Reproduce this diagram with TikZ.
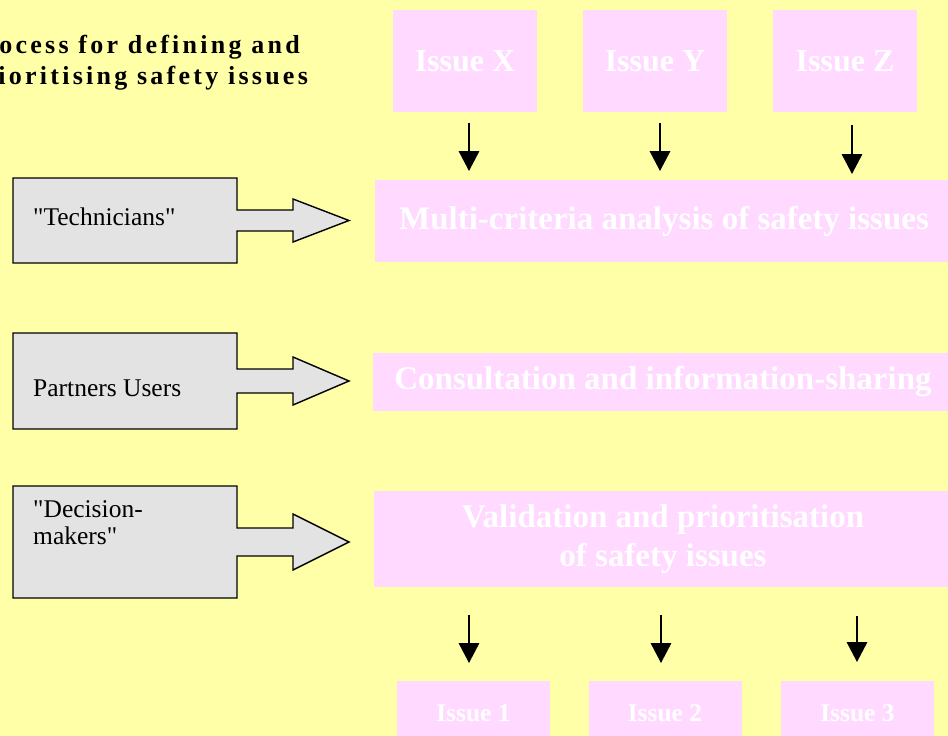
\documentclass[tikz,border=0pt]{standalone}
\usepackage{fontspec}
\setmainfont{Liberation Serif}
\newfontfamily\spacedserif[LetterSpace=12.5]{Liberation Serif}
\newfontfamily\labelserif[Ligatures=TeXOff]{Liberation Serif}
\usetikzlibrary{arrows.meta,calc}
\definecolor{bgc}{HTML}{FFFFA8}
\definecolor{pinkc}{HTML}{FFD9FF}
\definecolor{greyc}{HTML}{E3E3E3}
\newcommand\gShapeOutline[3]{%
  \fill[greyc] (#1.north west) -- (#1.north east) -- ($(#1.east)+(0,-#2)$) -- ++(56,0) -- ($(#1.east)+(56,-#3)$) -- ($(#1.east)+(112,0)$) -- ($(#1.east)+(56,#3)$) -- ($(#1.east)+(56,#2)$) -- ($(#1.east)+(0,#2)$) -- (#1.south east) -- (#1.south west) -- cycle;
  \draw[line width=1.4pt, line join=miter] (#1.north west) -- (#1.north east) -- ($(#1.east)+(0,-#2)$) -- ++(56,0) -- ($(#1.east)+(56,-#3)$) -- ($(#1.east)+(112,0)$) -- ($(#1.east)+(56,#3)$) -- ($(#1.east)+(56,#2)$) -- ($(#1.east)+(0,#2)$) -- (#1.south east) -- (#1.south west) -- cycle;}
\begin{document}
\begin{tikzpicture}[x=1pt,y=-1pt,
  pbox/.style={fill=pinkc, draw=none, text=white, inner sep=0pt, outer sep=0pt, align=center, font=\bfseries\fontsize{33}{39}\selectfont},
  sbox/.style={pbox, font=\bfseries\fontsize{25.5}{30}\selectfont, minimum width=153pt, minimum height=64pt},
  ibox/.style={pbox, font=\bfseries\fontsize{32}{36}\selectfont, minimum width=144pt, minimum height=102pt},
  gbox/.style={inner sep=0pt, outer sep=0pt, minimum width=224pt},
  glabel/.style={inner sep=0pt, anchor=base west, align=left, font=\labelserif\fontsize{25.5}{27}\selectfont},
  ttl/.style={inner sep=0pt, font=\spacedserif\bfseries\fontsize{26}{30}\selectfont},
  arr/.style={draw, line width=1.8pt, -{Triangle[width=20.5pt,length=20pt]}}]
\clip (0,0) rectangle (948,736);
\fill[bgc] (0,0) rectangle (948,736);
% title
\node[ttl, anchor=base east] (t1) at (300,53) {Process for defining and};
\node[ttl, anchor=base west] (t2) at ($(t1.base west)+(0,31)$) {prioritising safety issues};
% input issues
\node[ibox] (ix) at (465,61) {Issue X};
\node[ibox] (iy) at (655,61) {Issue Y};
\node[ibox] (iz) at (845,61) {Issue Z};
% process boxes
\node[pbox, minimum width=578pt, minimum height=82pt] (mc) at (664,221) {Multi-criteria analysis of safety issues};
\node[pbox, minimum width=580pt, minimum height=58pt] (cs) at (663,382) {Consultation and information-sharing};
\node[pbox, minimum width=578pt, minimum height=96pt] (vp) at (663,539) {Validation and prioritisation\\of safety issues};
% output issues
\node[sbox] (o1) at (473.5,713) {Issue 1};
\node[sbox] (o2) at (665,713) {Issue 2};
\node[sbox] (o3) at (857.5,713) {Issue 3};
% arrows top
\draw[arr, shorten <=10.5pt, shorten >=9pt] ([xshift=4pt]ix.south) -- ([xshift=4pt]ix.south |- mc.north);
\draw[arr, shorten <=10.5pt, shorten >=9pt] ([xshift=5pt]iy.south) -- ([xshift=5pt]iy.south |- mc.north);
\draw[arr, shorten <=13pt, shorten >=6pt] ([xshift=7pt]iz.south) -- ([xshift=7pt]iz.south |- mc.north);
% arrows bottom
\draw[arr, shorten <=28pt, shorten >=18pt] ([xshift=-4.5pt]o1.north |- vp.south) -- ([xshift=-4.5pt]o1.north);
\draw[arr, shorten <=28pt, shorten >=18pt] ([xshift=-4pt]o2.north |- vp.south) -- ([xshift=-4pt]o2.north);
\draw[arr, shorten <=29pt, shorten >=19pt] ([xshift=-0.5pt]o3.north |- vp.south) -- ([xshift=-0.5pt]o3.north);
% actor shapes
\node[gbox, minimum height=85pt] (tech) at (125,220.5) {};
\gShapeOutline{tech}{10.5}{21.5}
\node[glabel] (techt) at (33,225) {"Technicians"};
\node[gbox, minimum height=96pt] (part) at (125,381) {};
\gShapeOutline{part}{12}{24}
\node[glabel] (partt) at (33,396) {Partners Users};
\node[gbox, minimum height=112pt] (deci) at (125,542) {};
\gShapeOutline{deci}{14}{28}
\node[glabel] (decit) at (33,544) {"Decision-\\makers"};
\end{tikzpicture}
\end{document}
